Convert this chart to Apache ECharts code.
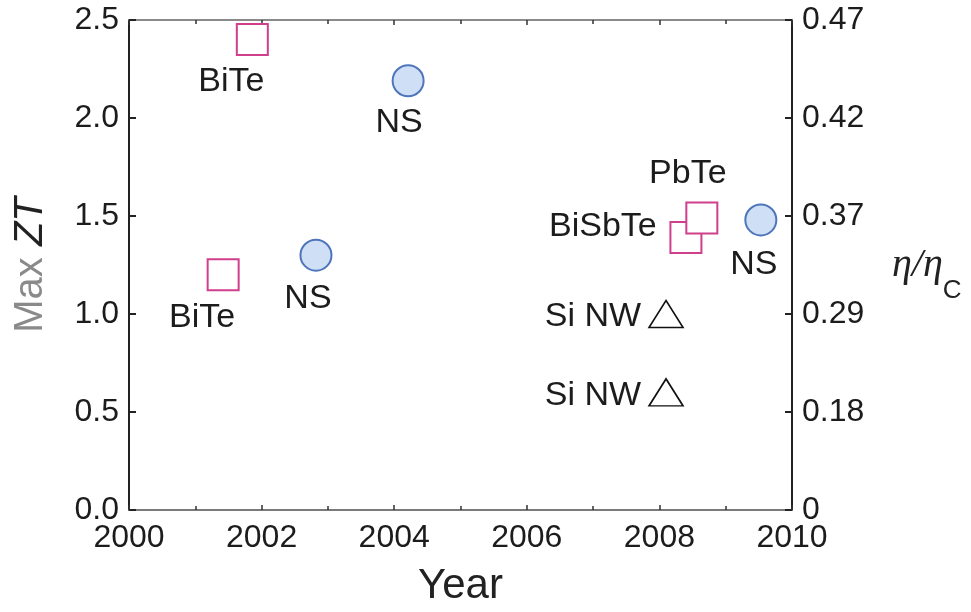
<!DOCTYPE html>
<html>
<head>
<meta charset="utf-8">
<script src="https://cdn.jsdelivr.net/npm/echarts@6/dist/echarts.min.js"></script>
<style>
  html, body { margin: 0; padding: 0; background: #ffffff; }
  #chart { width: 971px; height: 612px; }
</style>
</head>
<body>
<div id="chart"></div>
<script>
// Thermoelectric records: maximum ZT by year of report
const squareYear = [2001.86, 2001.42, 2008.40, 2008.64];
const squareZT = [2.40, 1.20, 1.39, 1.49];
const squareName = ['BiTe', 'BiTe', 'BiSbTe', 'PbTe'];

const circleYear = [2002.82, 2004.21, 2009.53];
const circleZT = [1.30, 2.19, 1.48];
const circleName = ['NS', 'NS', 'NS'];

const triangleYear = [2008.10, 2008.10];
const triangleZT = [1.00, 0.60];
const triangleName = ['Si NW', 'Si NW'];

// Right-hand axis: efficiency relative to Carnot at each ZT tick
const effTickLabels = ['0', '0.18', '0.29', '0.37', '0.42', '0.47'];

// Label placement (pixel offsets from the marker centre)
const squareLabelOffset = [[-21, 42], [-21, 43], [-83, -11], [-14, -44]];
const circleLabelOffset = [[-8, 43], [-9, 42], [-7, 45]];
const triangleLabelOffset = [[-73, 3], [-73, 3]];

const FONT = "'Liberation Sans', Arial, sans-serif";
const TEXT = '#1c1c1c';

function points(xs, ys, names, offsets) {
  return xs.map((x, i) => ({
    name: names[i],
    value: [x, ys[i]],
    label: { offset: offsets[i] }
  }));
}

const labelBase = {
  show: true,
  position: 'inside',
  formatter: '{b}',
  color: TEXT,
  fontSize: 34,
  fontFamily: FONT
};

const chart = echarts.init(document.getElementById('chart'), null, { renderer: 'canvas' });

chart.setOption({
  backgroundColor: '#ffffff',
  animation: false,
  grid: { left: 129, right: 179, top: 20, bottom: 96 },
  xAxis: [
    {
      type: 'value', min: 2000, max: 2010, interval: 2,
      position: 'bottom',
      name: 'Year', nameLocation: 'middle', nameGap: 55,
      nameTextStyle: { fontSize: 42, color: '#222', fontFamily: FONT },
      axisLine: { show: true, onZero: false, lineStyle: { color: '#7a7a7a', width: 2 } },
      axisTick: { show: true, inside: true, length: 5, lineStyle: { color: '#333', width: 1.5 } },
      minorTick: { show: true, splitNumber: 2, length: 4, lineStyle: { color: '#333', width: 1.5 } },
      axisLabel: { color: TEXT, fontSize: 32, fontFamily: FONT, margin: 12,
                   formatter: v => String(v) },
      splitLine: { show: false }
    },
    {
      type: 'value', min: 2000, max: 2010, interval: 2,
      position: 'top',
      axisLine: { show: true, onZero: false, lineStyle: { color: '#8a8a8a', width: 2 } },
      axisTick: { show: true, inside: true, length: 5, lineStyle: { color: '#333', width: 1.5 } },
      minorTick: { show: true, splitNumber: 2, length: 4, lineStyle: { color: '#333', width: 1.5 } },
      axisLabel: { show: false },
      splitLine: { show: false }
    }
  ],
  yAxis: [
    {
      type: 'value', min: 0, max: 2.5, interval: 0.5,
      position: 'left',
      name: '{m|Max }{z|ZT}', nameLocation: 'middle', nameGap: 78, nameRotate: 90,
      nameTextStyle: {
        rich: {
          m: { fontSize: 40, color: '#8a8a8a', fontFamily: FONT },
          z: { fontSize: 40, color: '#222', fontStyle: 'italic', fontFamily: FONT }
        }
      },
      axisLine: { show: true, onZero: false, lineStyle: { color: '#222', width: 2 } },
      axisTick: { show: true, inside: true, length: 7, lineStyle: { color: '#222', width: 2 } },
      axisLabel: { color: TEXT, fontSize: 32, fontFamily: FONT, margin: 10,
                   formatter: v => v.toFixed(1) },
      splitLine: { show: false }
    },
    {
      type: 'value', min: 0, max: 2.5, interval: 0.5,
      position: 'right',
      name: '{e|η/η}{c|C}', nameLocation: 'middle', nameGap: 100, nameRotate: 0,
      nameTextStyle: {
        rich: {
          e: { fontSize: 40, lineHeight: 44, color: '#222', fontStyle: 'italic',
               fontFamily: "'Liberation Serif', 'Times New Roman', serif" },
          c: { fontSize: 26, lineHeight: 26, color: '#222', padding: [52, 0, 0, 0],
               fontFamily: FONT }
        }
      },
      axisLine: { show: true, onZero: false, lineStyle: { color: '#222', width: 2 } },
      axisTick: { show: true, inside: true, length: 7, lineStyle: { color: '#222', width: 2 } },
      axisLabel: { color: TEXT, fontSize: 32, fontFamily: FONT, margin: 10,
                   formatter: v => effTickLabels[Math.round(v / 0.5)] },
      splitLine: { show: false }
    }
  ],
  series: [
    {
      type: 'scatter', name: 'bulk',
      symbol: 'rect', symbolSize: 31,
      itemStyle: { color: '#ffffff', borderColor: '#cf3f8c', borderWidth: 2, opacity: 1 },
      label: labelBase,
      data: points(squareYear, squareZT, squareName, squareLabelOffset)
    },
    {
      type: 'scatter', name: 'nanostructured',
      symbol: 'circle', symbolSize: 31,
      itemStyle: { color: '#cfe0f6', borderColor: '#4f75bb', borderWidth: 2, opacity: 1 },
      label: labelBase,
      data: points(circleYear, circleZT, circleName, circleLabelOffset)
    },
    {
      type: 'scatter', name: 'nanowire',
      symbol: 'triangle', symbolSize: [34, 27],
      itemStyle: { color: '#ffffff', borderColor: '#111111', borderWidth: 1.6, opacity: 1 },
      label: labelBase,
      data: points(triangleYear, triangleZT, triangleName, triangleLabelOffset)
    }
  ]
});
</script>
</body>
</html>
